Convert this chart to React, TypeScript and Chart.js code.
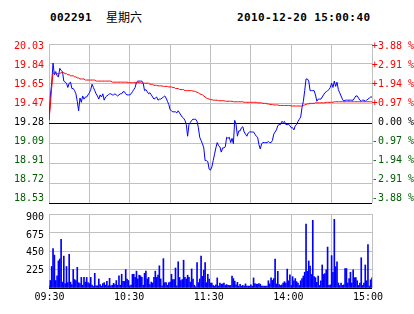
import React, { useEffect, useRef } from "react";
import { Chart, registerables } from "chart.js";

Chart.register(...registerables);

const stockCode = "002291";
const weekday = "星期六";
const timestamp = "2010-12-20 15:00:40";

// price grid (prev close 19.28, +-3.88%)
const priceGrid = [18.53, 18.7175, 18.905, 19.0925, 19.28, 19.4675, 19.655, 19.8425, 20.03];
const priceTickLabels = ["18.53", "18.72", "18.91", "19.09", "19.28", "19.47", "19.65", "19.84", "20.03"];
const pctTickLabels = ["-3.88 %", "-2.91 %", "-1.94 %", "-0.97 %", "0.00 %", "+0.97 %", "+1.94 %", "+2.91 %", "+3.88 %"];
const volGrid = [0, 225, 450, 675, 900];
const volTickLabels = ["225", "450", "675", "900"];
const gridMinutes = [0, 30, 60, 90, 120, 150, 180, 210, 240];
const timeTickMinutes = [0, 60, 120, 180, 240];
const timeLabels = ["09:30", "10:30", "11:30", "14:00", "15:00"];

const prices = [
  19.31, 19.54, 19.66, 19.85, 19.74, 19.77, 19.73, 19.72, 19.80, 19.78,
  19.77, 19.68, 19.67, 19.66, 19.62, 19.66, 19.67, 19.61, 19.61, 19.59,
  19.56, 19.49, 19.40, 19.52, 19.48, 19.54, 19.51, 19.53, 19.53, 19.55,
  19.57, 19.60, 19.65, 19.62, 19.59, 19.56, 19.54, 19.51, 19.55, 19.53,
  19.56, 19.50, 19.53, 19.54, 19.55, 19.56, 19.56, 19.55, 19.55, 19.56,
  19.55, 19.54, 19.55, 19.56, 19.56, 19.58, 19.58, 19.56, 19.55, 19.55,
  19.55, 19.56, 19.58, 19.60, 19.62, 19.67, 19.68, 19.68, 19.68, 19.68,
  19.66, 19.59, 19.60, 19.58, 19.56, 19.57, 19.55, 19.53, 19.51, 19.52,
  19.53, 19.50, 19.51, 19.51, 19.52, 19.53, 19.54, 19.52, 19.49, 19.46,
  19.41, 19.40, 19.39, 19.39, 19.39, 19.38, 19.40, 19.38, 19.36, 19.34,
  19.33, 19.31, 19.27, 19.16, 19.27, 19.29, 19.31, 19.32, 19.32, 19.32,
  19.30, 19.24, 19.15, 19.12, 19.09, 19.05, 18.93, 18.93, 18.92, 18.85,
  18.84,
  18.87, 18.93, 18.99, 19.05, 19.10, 19.07, 19.06, 19.01, 19.05, 19.05,
  19.06, 19.15, 19.14, 19.15, 19.10, 19.14, 19.09, 19.31, 19.27, 19.16,
  19.21, 19.21, 19.24, 19.25, 19.20, 19.18, 19.16, 19.19, 19.20, 19.20,
  19.20, 19.20, 19.18, 19.16, 19.15, 19.08, 19.04, 19.09, 19.10, 19.10,
  19.10, 19.10, 19.11, 19.10, 19.10, 19.12, 19.18, 19.20, 19.22, 19.26,
  19.27, 19.27, 19.30, 19.29, 19.30, 19.27, 19.27, 19.27, 19.26, 19.24,
  19.24, 19.22, 19.26, 19.27, 19.30, 19.32, 19.34, 19.43, 19.49, 19.59,
  19.70, 19.70, 19.68, 19.59, 19.59, 19.59, 19.59, 19.55, 19.49, 19.51,
  19.51, 19.51, 19.53, 19.55, 19.57, 19.58, 19.59, 19.60, 19.62, 19.66,
  19.62, 19.68, 19.63, 19.67, 19.60, 19.57, 19.54, 19.51, 19.49, 19.50,
  19.50, 19.50, 19.50, 19.50, 19.50, 19.50, 19.52, 19.54, 19.54, 19.52,
  19.50, 19.49, 19.50, 19.50, 19.49, 19.50, 19.51, 19.52, 19.53, 19.53,
];

const avgPrices = [
  19.31, 19.45, 19.62, 19.76, 19.75, 19.75, 19.75, 19.75, 19.75, 19.76,
  19.76, 19.76, 19.75, 19.75, 19.74, 19.74, 19.73, 19.73, 19.73, 19.72,
  19.72, 19.71, 19.71, 19.70, 19.70, 19.70, 19.70, 19.69, 19.69, 19.69,
  19.69, 19.69, 19.69, 19.69, 19.69, 19.68, 19.68, 19.68, 19.68, 19.68,
  19.68, 19.68, 19.68, 19.68, 19.68, 19.68, 19.68, 19.67, 19.67, 19.67,
  19.67, 19.67, 19.67, 19.67, 19.67, 19.67, 19.67, 19.67, 19.67, 19.665,
  19.665, 19.665, 19.665, 19.665, 19.665, 19.665, 19.665, 19.665, 19.665, 19.66,
  19.66, 19.66, 19.66, 19.66, 19.66, 19.65, 19.65, 19.65, 19.64, 19.64,
  19.64, 19.635, 19.635, 19.635, 19.635, 19.63, 19.63, 19.63, 19.63, 19.625,
  19.625, 19.625, 19.62, 19.62, 19.61, 19.61, 19.61, 19.60, 19.60, 19.60,
  19.60, 19.59, 19.59, 19.59, 19.59, 19.59, 19.59, 19.585, 19.585, 19.58,
  19.575, 19.57, 19.56, 19.555, 19.55, 19.54, 19.53, 19.52, 19.515, 19.51,
  19.505,
  19.505, 19.50, 19.50, 19.50, 19.50, 19.495, 19.495, 19.495, 19.495, 19.495,
  19.49, 19.49, 19.49, 19.49, 19.49, 19.49, 19.485, 19.485, 19.485, 19.485,
  19.485, 19.485, 19.485, 19.485, 19.48, 19.48, 19.48, 19.48, 19.48, 19.48,
  19.48, 19.48, 19.48, 19.48, 19.475, 19.475, 19.475, 19.475, 19.47, 19.47,
  19.47, 19.465, 19.465, 19.46, 19.46, 19.46, 19.455, 19.455, 19.455, 19.455,
  19.45, 19.45, 19.45, 19.45, 19.45, 19.45, 19.45, 19.45, 19.45, 19.445,
  19.445, 19.445, 19.445, 19.445, 19.445, 19.445, 19.445, 19.445, 19.45, 19.455,
  19.46, 19.465, 19.465, 19.47, 19.47, 19.47, 19.47, 19.475, 19.475, 19.475,
  19.475, 19.475, 19.475, 19.475, 19.475, 19.48, 19.48, 19.48, 19.48, 19.48,
  19.48, 19.485, 19.485, 19.485, 19.485, 19.485, 19.485, 19.485, 19.485, 19.485,
  19.485, 19.485, 19.485, 19.485, 19.485, 19.485, 19.485, 19.485, 19.485, 19.485,
  19.485, 19.485, 19.485, 19.485, 19.485, 19.485, 19.485, 19.485, 19.485, 19.485,
];

const volumes = [
  23, 91, 262, 479, 400, 91, 148, 330, 353, 593,
  72, 388, 53, 262, 65, 410, 72, 42, 224, 103,
  91, 251, 65, 53, 129, 34, 129, 72, 129, 65,
  53, 129, 34, 19, 179, 27, 27, 110, 42, 23,
  53, 65, 34, 80, 27, 118, 27, 34, 57, 42,
  91, 34, 148, 34, 167, 80, 80, 224, 110, 91,
  27, 34, 167, 167, 129, 205, 110, 156, 148, 129,
  34, 179, 205, 110, 129, 42, 72, 61, 129, 205,
  129, 156, 270, 110, 27, 357, 65, 65, 34, 65,
  72, 167, 103, 103, 243, 27, 319, 129, 91, 103,
  338, 129, 110, 156, 129, 72, 232, 110, 34, 15,
  308, 65, 110, 388, 141, 217, 308, 65, 167, 110,
  60,
  61, 31, 23, 38, 123, 23, 61, 46, 50, 61,
  31, 42, 31, 31, 31, 146, 115, 84, 38, 69,
  23, 46, 23, 31, 23, 50, 23, 23, 23, 38,
  23, 123, 54, 46, 46, 54, 46, 23, 23, 23,
  23, 23, 88, 50, 123, 92, 115, 352, 50, 203,
  42, 31, 38, 61, 77, 61, 230, 88, 161, 31,
  138, 88, 115, 77, 61, 31, 88, 115, 146, 192,
  777, 203, 329, 268, 165, 823, 138, 126, 69, 146,
  31, 88, 280, 165, 176, 222, 498, 31, 38, 394,
  192, 835, 260, 318, 61, 31, 61, 31, 38, 237,
  237, 61, 115, 192, 61, 222, 126, 126, 88, 31,
  61, 368, 31, 61, 280, 88, 528, 23, 100, 125,
];

const GRAY = "#c0c0c0";
const RED = "#ff0000";
const GREEN = "#006000";
const BLUE = "#0000ff";
const MONO = "'DejaVu Sans Mono', 'Liberation Mono', monospace";
const tickFont = { family: MONO, size: 10 };

const signColor = (k: number) => (k < 4 ? GREEN : k === 4 ? "#000000" : RED);

export default function App() {
  const priceRef = useRef<HTMLCanvasElement | null>(null);
  const volRef = useRef<HTMLCanvasElement | null>(null);

  useEffect(() => {
    const priceChart = new Chart(priceRef.current as HTMLCanvasElement, {
      type: "line",
      data: {
        datasets: [
          {
            data: avgPrices.map((v, i) => ({ x: i, y: v })),
            borderColor: RED,
            borderWidth: 1,
            pointRadius: 0,
            tension: 0,
            order: 0,
          },
          {
            data: prices.map((v, i) => ({ x: i, y: v })),
            borderColor: BLUE,
            borderWidth: 1,
            pointRadius: 0,
            tension: 0,
            order: 1,
          },
        ],
      },
      options: {
        animation: false,
        responsive: false,
        maintainAspectRatio: false,
        events: [],
        layout: { padding: { top: 14, bottom: 10, left: 0, right: 0 } },
        plugins: { legend: { display: false }, tooltip: { enabled: false } },
        scales: {
          x: {
            type: "linear",
            min: 0,
            max: 240,
            offset: false,
            afterBuildTicks: (s: any) => {
              s.ticks = gridMinutes.map((v) => ({ value: v }));
            },
            ticks: { display: false },
            grid: { color: GRAY, drawTicks: false, offset: false },
            border: { display: false },
            afterFit: (s: any) => {
              s.height = 0;
            },
          },
          y: {
            type: "linear",
            position: "left",
            min: priceGrid[0],
            max: priceGrid[priceGrid.length - 1],
            bounds: "data",
            afterBuildTicks: (s: any) => {
              s.ticks = priceGrid.map((v) => ({ value: v }));
            },
            ticks: { display: false },
            grid: {
              color: (ctx: any) => (ctx.index === 0 || ctx.index === 4 ? "#000000" : GRAY),
              drawTicks: false,
            },
            border: { display: false },
            afterFit: (s: any) => {
              s.width = 0;
            },
          },
          yl: {
            type: "linear",
            position: "left",
            min: -0.2345,
            max: 8.104,
            bounds: "data",
            afterBuildTicks: (s: any) => {
              s.ticks = priceTickLabels.map((_, k) => ({ value: k }));
            },
            ticks: {
              callback: (_v: any, idx: number) => priceTickLabels[idx],
              color: (ctx: any) => signColor(ctx.index),
              font: tickFont,
              padding: 5,
              autoSkip: false,
            },
            grid: { display: false, drawTicks: false },
            border: { display: false },
            afterFit: (s: any) => {
              s.width = 49;
            },
          },
          yr: {
            type: "linear",
            position: "right",
            min: -0.2345,
            max: 8.104,
            bounds: "data",
            afterBuildTicks: (s: any) => {
              s.ticks = pctTickLabels.map((_, k) => ({ value: k }));
            },
            ticks: {
              callback: (_v: any, idx: number) => pctTickLabels[idx],
              color: (ctx: any) => signColor(ctx.index),
              font: tickFont,
              padding: 0,
              crossAlign: "far",
              autoSkip: false,
            },
            grid: { display: false, drawTicks: false },
            border: { display: false },
            afterFit: (s: any) => {
              s.width = 42;
            },
          },
        },
      } as any,
    });

    const volChart = new Chart(volRef.current as HTMLCanvasElement, {
      type: "bar",
      data: {
        datasets: [
          {
            data: volumes.map((v, i) => ({ x: i, y: v })),
            backgroundColor: BLUE,
            borderWidth: 0,
            barThickness: 1,
          },
        ],
      },
      options: {
        animation: false,
        responsive: false,
        maintainAspectRatio: false,
        events: [],
        layout: { padding: { top: 6, bottom: 0, left: 0, right: 42 } },
        plugins: { legend: { display: false }, tooltip: { enabled: false } },
        scales: {
          x: {
            type: "linear",
            min: 0,
            max: 240,
            offset: false,
            afterBuildTicks: (s: any) => {
              s.ticks = gridMinutes.map((v) => ({ value: v }));
            },
            ticks: { display: false },
            grid: { color: GRAY, drawTicks: false, offset: false },
            border: { display: false },
            afterFit: (s: any) => {
              s.height = 0;
            },
          },
          xl: {
            type: "linear",
            position: "bottom",
            min: -0.378,
            max: 243.0,
            offset: false,
            bounds: "data",
            afterBuildTicks: (s: any) => {
              s.ticks = timeTickMinutes.map((v) => ({ value: v }));
            },
            ticks: {
              callback: (_v: any, idx: number) => timeLabels[idx],
              color: "#000000",
              font: tickFont,
              padding: 3,
              maxRotation: 0,
              autoSkip: false,
            },
            grid: { display: false, drawTicks: false, offset: false },
            border: { display: false },
            afterFit: (s: any) => {
              s.height = 26;
            },
          },
          y: {
            type: "linear",
            position: "left",
            min: 0,
            max: 900,
            bounds: "data",
            afterBuildTicks: (s: any) => {
              s.ticks = volGrid.map((v) => ({ value: v }));
            },
            ticks: { display: false },
            grid: {
              color: (ctx: any) => (ctx.index === 0 ? "#000000" : GRAY),
              drawTicks: false,
            },
            border: { display: false },
            afterFit: (s: any) => {
              s.width = 0;
            },
          },
          yl: {
            type: "linear",
            position: "left",
            min: 0.011,
            max: 4.19,
            bounds: "data",
            afterBuildTicks: (s: any) => {
              s.ticks = volTickLabels.map((_, k) => ({ value: k + 1 }));
            },
            ticks: {
              callback: (_v: any, idx: number) => volTickLabels[idx],
              color: "#000000",
              font: tickFont,
              padding: 5,
              autoSkip: false,
            },
            grid: { display: false, drawTicks: false },
            border: { display: false },
            afterFit: (s: any) => {
              s.width = 49;
            },
          },
        },
      } as any,
    });

    return () => {
      priceChart.destroy();
      volChart.destroy();
    };
  }, []);

  const monoBold: React.CSSProperties = {
    position: "absolute",
    top: 12,
    fontFamily: MONO,
    fontWeight: "bold",
    fontSize: 11,
    letterSpacing: "0.4px",
    lineHeight: "11px",
    color: "#000",
    whiteSpace: "nowrap",
  };

  return (
    <div
      style={{
        position: "fixed",
        left: 0,
        top: 0,
        width: 414,
        height: 314,
        background: "#ffffff",
        overflow: "hidden",
      }}
    >
      <div style={{ ...monoBold, left: 50 }}>{stockCode}</div>
      <div
        style={{
          position: "absolute",
          left: 106,
          top: 11,
          fontFamily: "'Noto Sans CJK SC', sans-serif",
          fontSize: 12,
          lineHeight: "12px",
          color: "#000",
          whiteSpace: "nowrap",
        }}
      >
        {weekday}
      </div>
      <div style={{ ...monoBold, left: 237 }}>{timestamp}</div>
      <canvas
        ref={priceRef}
        width={414}
        height={184}
        style={{ position: "absolute", left: 0, top: 30, width: 414, height: 184 }}
      />
      <canvas
        ref={volRef}
        width={414}
        height={111}
        style={{ position: "absolute", left: 0, top: 203, width: 414, height: 111 }}
      />
    </div>
  );
}
